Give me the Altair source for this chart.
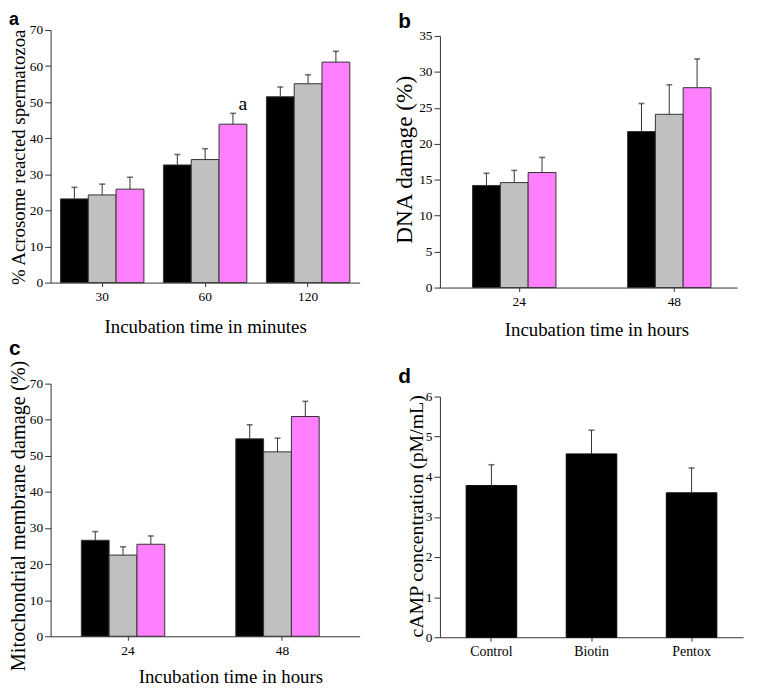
import altair as alt
import pandas as pd

treatments = ["Control", "Biotin", "Pentox"]
bar_colors = ["#000000", "#c0c0c0", "#ff80ff"]

# Panel a: acrosome reaction (%)
a_times = ["30", "60", "120"]
a_control = [23.2, 32.6, 51.5]
a_biotin = [24.3, 34.1, 55.1]
a_pentox = [25.9, 43.9, 61.1]
a_control_err = [3.2, 2.9, 2.7]
a_biotin_err = [3.0, 3.0, 2.5]
a_pentox_err = [3.3, 3.0, 3.0]

# Panel b: DNA damage (%)
b_times = ["24", "48"]
b_control = [14.2, 21.7]
b_biotin = [14.6, 24.1]
b_pentox = [16.0, 27.8]
b_control_err = [1.7, 3.9]
b_biotin_err = [1.7, 4.1]
b_pentox_err = [2.1, 4.0]

# Panel c: mitochondrial membrane damage (%)
c_times = ["24", "48"]
c_control = [26.6, 54.7]
c_biotin = [22.5, 51.1]
c_pentox = [25.5, 60.9]
c_control_err = [2.4, 3.9]
c_biotin_err = [2.3, 3.8]
c_pentox_err = [2.3, 4.2]

# Panel d: cAMP concentration
d_groups = ["Control", "Biotin", "Pentox"]
d_values = [3.78, 4.57, 3.60]
d_err = [0.52, 0.59, 0.62]

# significance annotation in panel a
ann_cat = ["60"]
ann_treat = ["Pentox"]
ann_y = [46.9]
ann_text = ["a"]

SERIF = "Liberation Serif"
AXC = "#333333"


def long_df(cats, series, errs):
    rows = []
    for t, vals, es in zip(treatments, series, errs):
        for c, v, e in zip(cats, vals, es):
            rows.append({"cat": c, "treat": t, "value": v, "upper": round(v + e, 3)})
    return pd.DataFrame(rows)


def y_axis(title, tx, ty, size, values):
    return alt.Axis(title=title, values=values, titleX=tx, titleY=ty, titleFontSize=size,
                    titleBaseline="middle", titleAngle=270, titleAlign="center",
                    titleFont=SERIF, titleFontWeight="normal", titleColor="#000000",
                    labelFont=SERIF, labelFontSize=13.5, labelColor="#000000",
                    labelOverlap=False, labelFlush=False,
                    domainColor=AXC, tickColor=AXC, domainWidth=1, tickWidth=1,
                    grid=False, tickSize=6, labelPadding=2, format="d")


def x_axis(title, tx, ty, label_size=13.5):
    if title is None:
        return alt.Axis(title=None, labelAngle=0, tickSize=4, labelPadding=3,
                        labelFont=SERIF, labelFontSize=label_size, labelColor="#000000",
                        domainColor=AXC, tickColor=AXC, domainWidth=1, tickWidth=1,
                        labelOverlap=False, grid=False)
    return alt.Axis(title=title, titleX=tx, titleY=ty, titleFontSize=19,
                    titleFont=SERIF, titleFontWeight="normal", titleColor="#000000",
                    titleBaseline="alphabetic", labelAngle=0, tickSize=4,
                    labelFont=SERIF, labelFontSize=label_size, labelColor="#000000",
                    domainColor=AXC, tickColor=AXC, domainWidth=1, tickWidth=1,
                    labelOverlap=False, labelPadding=3, grid=False)


def letter(ch, x, y, size=21):
    return alt.Chart(pd.DataFrame({"t": [ch]})).mark_text(
        font="Liberation Sans", fontWeight="bold", fontSize=size,
        align="left", baseline="alphabetic", color="#000"
    ).encode(text="t:N", x=alt.value(x), y=alt.value(y))


def grouped_panel(df, cats, xscale, xaxis, yscale, yaxis):
    x = alt.X("cat:N", sort=cats, scale=xscale, axis=xaxis)
    xo = alt.XOffset("treat:N", sort=treatments,
                     scale=alt.Scale(domain=treatments, paddingInner=0, paddingOuter=0))
    y = alt.Y("value:Q", scale=yscale, axis=yaxis)
    base = alt.Chart(df)
    bars = base.mark_bar(stroke="#333333", strokeWidth=1).encode(
        x=x, xOffset=xo, y=y,
        color=alt.Color("treat:N", scale=alt.Scale(domain=treatments, range=bar_colors), legend=None),
    )
    rules = base.mark_rule(color="#333333", strokeWidth=1).encode(
        x=x, xOffset=xo, y=y, y2="upper:Q")
    caps = base.mark_tick(color="#333333", size=6, thickness=1.6, orient="horizontal").encode(
        x=x, xOffset=xo, y=alt.Y("upper:Q", scale=yscale, axis=yaxis))
    return bars, rules, caps, x, xo


# ---- panel a
ya_scale = alt.Scale(domain=[0, 70], nice=False)
ya_axis = y_axis("% Acrosome reacted spermatozoa", -32, 128, 19, list(range(0, 71, 10)))
dfa = long_df(a_times, [a_control, a_biotin, a_pentox], [a_control_err, a_biotin_err, a_pentox_err])
ba, ra, ca, xa, xoa = grouped_panel(
    dfa, a_times,
    alt.Scale(paddingInner=0.19, paddingOuter=0.096),
    x_axis("Incubation time in minutes", 156, 50),
    ya_scale, ya_axis)
ann_df = pd.DataFrame({"cat": ann_cat, "treat": ann_treat, "y": ann_y, "t": ann_text})
ann = alt.Chart(ann_df).mark_text(font=SERIF, fontSize=20, dx=10, dy=-3,
                                  baseline="alphabetic", align="center", color="#000").encode(
    x=xa, xOffset=xoa, y=alt.Y("y:Q", scale=ya_scale, axis=ya_axis), text="t:N")
panel_a = alt.layer(ba, ra, ca, ann, letter("a", -42, -5, 18)).properties(width=312, height=255)

# ---- panel b
dfb = long_df(b_times, [b_control, b_biotin, b_pentox], [b_control_err, b_biotin_err, b_pentox_err])
bb, rb, cb, _, _ = grouped_panel(
    dfb, b_times,
    alt.Scale(paddingInner=0.397, paddingOuter=0.157, align=0.67),
    x_axis("Incubation time in hours", 158, 48),
    alt.Scale(domain=[0, 35], nice=False, range=[260, 6]),
    y_axis("DNA damage (%)", -36, 130.5, 23.5, list(range(0, 36, 5))))
panel_b = alt.layer(bb, rb, cb, letter("b", -42, -2)).properties(width=300, height=260)

# ---- panel c
dfc = long_df(c_times, [c_control, c_biotin, c_pentox], [c_control_err, c_biotin_err, c_pentox_err])
bc, rc, cc, _, _ = grouped_panel(
    dfc, c_times,
    alt.Scale(paddingInner=0.397, paddingOuter=0.199),
    x_axis("Incubation time in hours", 181.5, 47),
    alt.Scale(domain=[0, 70], nice=False),
    y_axis("Mitochondrial membrane damage (%)", -32, 133, 20.5, list(range(0, 71, 10))))
panel_c = alt.layer(bc, rc, cc, letter("c", -42, -29)).properties(width=312, height=255)

# ---- panel d
dfd = pd.DataFrame({"cat": d_groups, "value": d_values,
                    "upper": [round(v + e, 3) for v, e in zip(d_values, d_err)]})
xd = alt.X("cat:N", sort=d_groups,
           scale=alt.Scale(paddingInner=0.495, paddingOuter=0.262),
           axis=x_axis(None, 0, 0, 14))
yd_scale = alt.Scale(domain=[0, 6], nice=False, range=[256, 13])
yd_axis = y_axis("cAMP concentration (pM/mL)", -24, 133.5, 20, list(range(0, 7)))
yd = alt.Y("value:Q", scale=yd_scale, axis=yd_axis)
based = alt.Chart(dfd)
bd = based.mark_bar(color="#000000", stroke="#000000", strokeWidth=1).encode(x=xd, y=yd)
rd = based.mark_rule(color="#333333", strokeWidth=1).encode(x=xd, y=yd, y2="upper:Q")
cd = based.mark_tick(color="#333333", size=6, thickness=1.6, orient="horizontal").encode(
    x=xd, y=alt.Y("upper:Q", scale=yd_scale, axis=yd_axis))
panel_d = alt.layer(bd, rd, cd, letter("d", -42, -1)).properties(width=306, height=256)

chart = alt.concat(
    panel_a, panel_b, panel_c, panel_d,
    columns=2,
    spacing=alt.RowColnumber(row=97, column=81),
    bounds="flush",
    align="all",
).properties(
    autosize=alt.AutoSizeParams(type="none"),
    padding={"left": 43, "top": 19, "right": 707, "bottom": 660},
).configure_axis(
    labelFont=SERIF, titleFont=SERIF, labelFontSize=13.5,
    labelColor="#000000", titleColor="#000000", titleFontWeight="normal",
    domainColor=AXC, tickColor=AXC, domainWidth=1, tickWidth=1,
).configure_view(strokeWidth=0)

chart.save("out.html", embed_options={"renderer": "svg", "actions": False})
